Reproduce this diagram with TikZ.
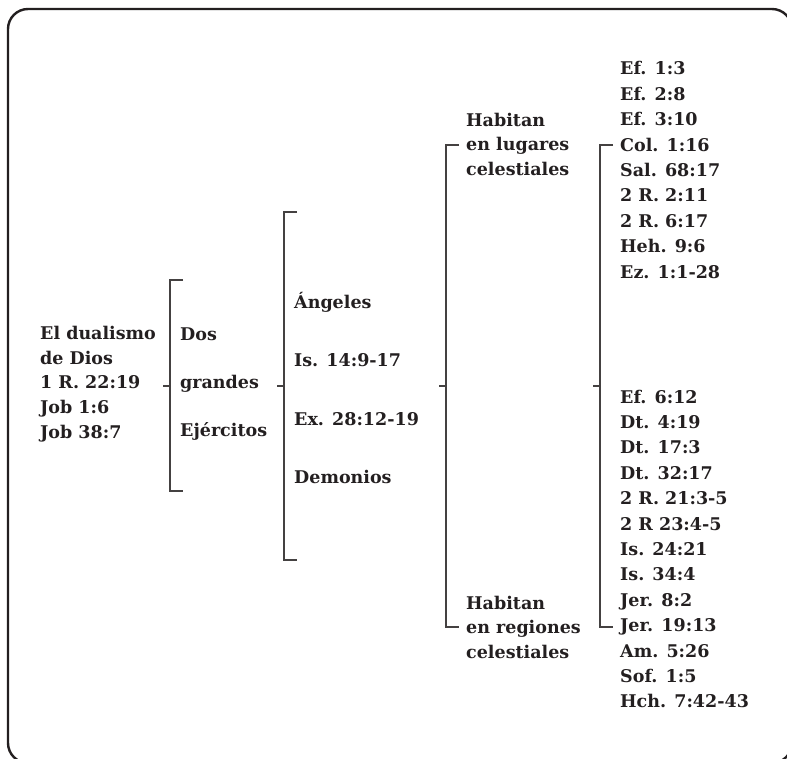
\documentclass[tikz,border=0pt]{standalone}
\usepackage{fontspec}
\setmainfont{DejaVu Serif}
\usetikzlibrary{positioning}
\definecolor{tinta}{HTML}{231F20}

\tikzset{
  texto/.style={anchor=west, align=left, inner sep=0pt, text=tinta,
    font={\bfseries\fontsize{17.5}{24.8}\selectfont}},
  llave/.style={draw=tinta!85, line width=1.3pt},
  marco/.style={draw=tinta, line width=2.4pt, rounded corners=20pt},
}

\begin{document}
\begin{tikzpicture}[x=1pt,y=-1pt]
        \useasboundingbox (0,0) rectangle (787,758);
        \clip (0,0) rectangle (787,758);

        % Draw the frame
        \draw[marco] (8,9) rectangle (792,763);

        % Text of the columns
        \node[texto] (dualismo) at (40,384) {El dualismo\\de Dios\\1 R. 22:19\\Job 1:6\\Job 38:7};
        \node[texto, font={\bfseries\fontsize{17.5}{48}\selectfont}] (ejercitos) at (180,384) {Dos\\grandes\\Ejércitos};
        \node[texto, font={\bfseries\fontsize{17.5}{58.5}\selectfont}] (angeles) at (294,388) {Ángeles\\Is. 14:9-17\\Ex. 28:12-19\\Demonios};
        \node[texto, font={\bfseries\fontsize{17.5}{24.5}\selectfont}] (lugares) at (466,144) {Habitan\\en lugares\\celestiales};
        \node[texto, font={\bfseries\fontsize{17.5}{24.5}\selectfont}] (regiones) at (466,627) {Habitan\\en regiones\\celestiales};
        \node[texto, font={\bfseries\fontsize{17.5}{25.4}\selectfont}] (citasA) at (620,170) {Ef. 1:3\\Ef. 2:8\\Ef. 3:10\\Col. 1:16\\Sal. 68:17\\2 R. 2:11\\2 R. 6:17\\Heh. 9:6\\Ez. 1:1-28};
        \node[texto, font={\bfseries\fontsize{17.5}{25.4}\selectfont}] (citasB) at (620,549) {Ef. 6:12\\Dt. 4:19\\Dt. 17:3\\Dt. 32:17\\2 R. 21:3-5\\2 R 23:4-5\\Is. 24:21\\Is. 34:4\\Jer. 8:2\\Jer. 19:13\\Am. 5:26\\Sof. 1:5\\Hch. 7:42-43};

        % Draw the brackets
        \foreach \x/\t/\b in {170/280/491, 284/212/560, 446/145/627, 600/145/627} {
            \draw[llave] (\x+13,\t) -- (\x,\t) -- (\x,\b) -- (\x+13,\b);
            \draw[llave] (\x-7,386) -- (\x,386);
        }
\end{tikzpicture}
\end{document}
